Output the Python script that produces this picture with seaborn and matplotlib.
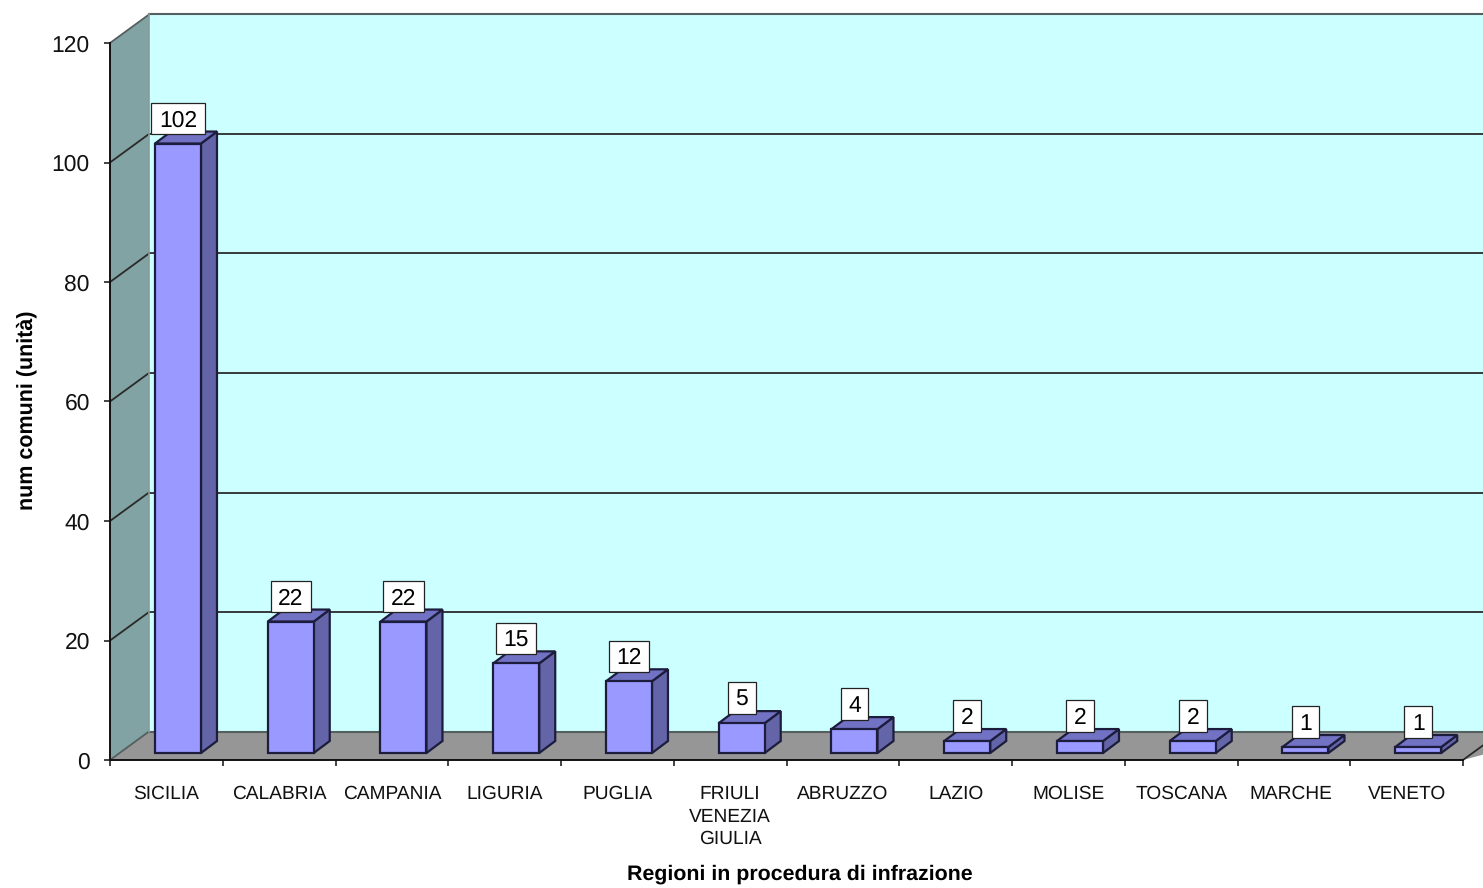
import matplotlib
matplotlib.use("Agg")
import matplotlib.pyplot as plt
from matplotlib.patches import Polygon
from matplotlib.path import Path
from matplotlib.transforms import Affine2D
import numpy as np
import pandas as pd
import seaborn as sns

regions = ["SICILIA", "CALABRIA", "CAMPANIA", "LIGURIA", "PUGLIA",
           "FRIULI\nVENEZIA\nGIULIA", "ABRUZZO", "LAZIO", "MOLISE",
           "TOSCANA", "MARCHE", "VENETO"]
counts = [102, 22, 22, 15, 12, 5, 4, 2, 2, 2, 1, 1]
y_ticks = [0, 20, 40, 60, 80, 100, 120]
x_title = "Regioni in procedura di infrazione"
y_title = "num comuni (unità)"

sns.set_theme(style="white")
plt.rcParams["font.family"] = ["Liberation Sans", "DejaVu Sans"]
plt.rcParams["text.hinting"] = "no_hinting"

W, H = 1483, 888
LEFT, RIGHT, FLOOR_Y, TOP_Y = 110, 1463, 760, 43
fig = plt.figure(figsize=(W / 100, H / 100), dpi=100)
ax = fig.add_axes([LEFT / W, (H - FLOOR_Y) / H, (RIGHT - LEFT) / W, (FLOOR_Y - TOP_Y) / H])
ax.patch.set_visible(False)

frame = pd.DataFrame({"region": regions, "comuni": counts})
sns.barplot(data=frame, x="region", y="comuni", color="#9999FF", saturation=1,
            width=0.408, edgecolor="#1c1c3c", linewidth=1.6, ax=ax, zorder=5)
front_faces = list(ax.patches)

ax.set_xlim(-0.5, 11.5)
ax.set_ylim(0, 120)
ppx = (RIGHT - LEFT) / 12
ppy = (FLOOR_Y - TOP_Y) / 120


def deep(x, v, dx, dy):
    """Move a data point by a depth offset given in pixels."""
    return (x + dx / ppx, v + dy / ppy)


def label_box(x0, y0, width, height, mutation_size):
    """Square label frame with separate horizontal and vertical padding, in pixels."""
    left, right = x0 - 7.5, x0 + width + 7.5
    bottom, top = y0 - 3, y0 + height + 7
    return Path([(left, bottom), (right, bottom), (right, top), (left, top), (left, bottom)],
                closed=True)


# Depth of the chart box and of the bars, in pixels
BOX_DX, BOX_DY = 39, 28.5
BAR_DX, BAR_DY = 16, 12
SHIFT_X, SHIFT_Y = 11.6, 7
EDGE = "#1c1c3c"

wall_kw = dict(clip_on=False, transform=ax.transData)
x0, x1 = -0.5, 11.5
far = x1 + 0.6

# Back wall
ax.add_patch(Polygon([deep(x0, 0, BOX_DX, BOX_DY), deep(x0, 120, BOX_DX, BOX_DY),
                      deep(far, 120, BOX_DX, BOX_DY), deep(far, 0, BOX_DX, BOX_DY)],
                     facecolor="#CCFFFF", edgecolor="none", zorder=1, **wall_kw))
# Side wall
ax.add_patch(Polygon([(x0, 0), (x0, 120), deep(x0, 120, BOX_DX, BOX_DY), deep(x0, 0, BOX_DX, BOX_DY)],
                     facecolor="#82A3A3", edgecolor="none", zorder=1, **wall_kw))
# Floor
ax.add_patch(Polygon([(x0, 0), (x1, 0), deep(x1, 0, BOX_DX, BOX_DY), deep(x0, 0, BOX_DX, BOX_DY)],
                     facecolor="#969696", edgecolor="none", zorder=1, **wall_kw))
ax.add_patch(Polygon([deep(x1, 0, BOX_DX, BOX_DY), deep(far, 0, BOX_DX, BOX_DY), (x1, 0)],
                     facecolor="#969696", edgecolor="none", zorder=1, **wall_kw))

# Gridlines across the side wall and along the back wall
for v in y_ticks:
    a = deep(x0, v, BOX_DX, BOX_DY)
    b = deep(far, v, BOX_DX, BOX_DY)
    col = "#555f5f" if v in (0, 120) else "#2a2a2a"
    ax.plot([x0, a[0]], [v, a[1]], color=col, lw=1.3, clip_on=False, zorder=2)
    ax.plot([a[0], b[0]], [a[1], b[1]], color=col, lw=1.5 if v in (0, 120) else 1.3,
            clip_on=False, zorder=2)
corner = deep(x0, 0, BOX_DX, BOX_DY)
ax.plot([corner[0], corner[0]], [corner[1], deep(x0, 120, BOX_DX, BOX_DY)[1]],
        color="#8a9a9a", lw=1.2, clip_on=False, zorder=2)
ax.plot([x1, deep(x1, 0, BOX_DX, BOX_DY)[0]], [0, BOX_DY / ppy], color="#2a2a2a", lw=1.3,
        clip_on=False, zorder=2)

# Bars: shift the seaborn faces into the box, then add their side and top faces
shift = ax.transData + Affine2D().translate(SHIFT_X, SHIFT_Y)
for bar, value in zip(front_faces, counts):
    bar.set_transform(shift)
    bar.set_clip_on(False)
    left, right = bar.get_x(), bar.get_x() + bar.get_width()
    side = [(right, 0), (right, value), deep(right, value, BAR_DX, BAR_DY), deep(right, 0, BAR_DX, BAR_DY)]
    top = [(left, value), (right, value), deep(right, value, BAR_DX, BAR_DY), deep(left, value, BAR_DX, BAR_DY)]
    ax.add_patch(Polygon(side, facecolor="#6464A8", edgecolor=EDGE, lw=1.6, transform=shift,
                         clip_on=False, zorder=4))
    ax.add_patch(Polygon(top, facecolor="#7272C4", edgecolor=EDGE, lw=1.6, transform=shift,
                         clip_on=False, zorder=4))
    ax.annotate(str(value), xy=((left + right) / 2, value), xycoords=shift,
                xytext=(0, 23 * 0.72), textcoords="offset points",
                ha="center", va="center", fontsize=16.5, color="black", zorder=6,
                bbox=dict(boxstyle=label_box, facecolor="white", edgecolor="#222222", lw=0.9),
                annotation_clip=False)

# Axes furniture
sns.despine(ax=ax, top=True, right=True)
for name in ("left", "bottom"):
    ax.spines[name].set_color("#111111")
    ax.spines[name].set_linewidth(1.4)
    ax.spines[name].set_zorder(3)

ax.set_yticks(y_ticks)
ax.tick_params(axis="y", which="major", left=True, length=4.5, width=1.1, color="#111111",
               labelsize=16.5, labelcolor="#111111", pad=10)
ax.set_xticks(np.arange(len(regions)), regions, linespacing=1.35)
ax.set_xticks(np.arange(len(regions) + 1) - 0.5, minor=True)
ax.tick_params(axis="x", which="major", bottom=False, labelsize=13.8, labelcolor="#111111", pad=12.2)
ax.tick_params(axis="x", which="minor", bottom=True, length=4.5, width=1.1, color="#111111")
for label in ax.get_xticklabels():
    label.set_verticalalignment("top")
    if label.get_text() == "MARCHE":
        label.set_transform(label.get_transform() + Affine2D().translate(-3, 0))

ax.set_xlabel(x_title, fontsize=15.4, fontweight="bold", color="black")
ax.xaxis.set_label_coords((800 - LEFT) / (RIGHT - LEFT), -(874 - FLOOR_Y) / (FLOOR_Y - TOP_Y))
ax.xaxis.label.set_verticalalignment("center")
ax.set_ylabel(y_title, fontsize=15.5, fontweight="bold", color="black")
ax.yaxis.set_label_coords(-(LEFT - 27) / (RIGHT - LEFT), (FLOOR_Y - 410) / (FLOOR_Y - TOP_Y))
ax.yaxis.label.set_verticalalignment("center")

fig.savefig("out.png", dpi=100, facecolor="white")
